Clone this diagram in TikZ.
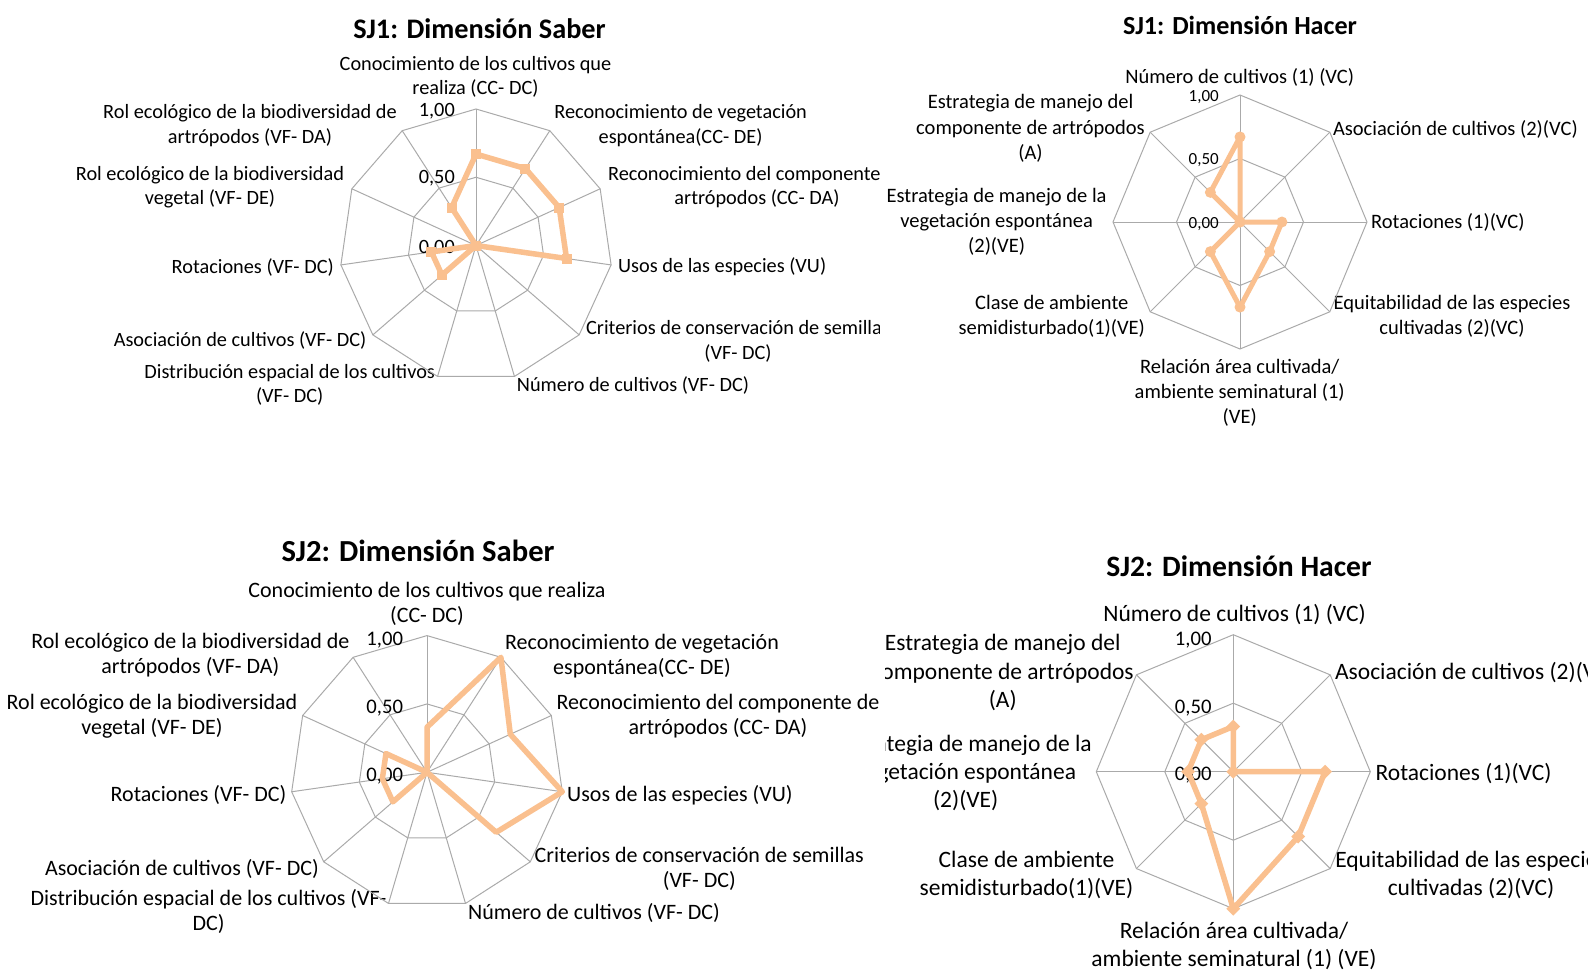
\documentclass[tikz,border=0pt]{standalone}
\usepackage{fontspec}
\setmainfont{Carlito}
\usetikzlibrary{shapes.geometric}
\definecolor{serieorange}{RGB}{250,192,143}
\definecolor{gridgray}{RGB}{170,170,170}

\begin{document}
\begin{tikzpicture}[x=1pt,y=-1pt,
  gridline/.style={draw=gridgray,line width=1pt},
  serie/.style={draw=serieorange,line width=5.5pt,line join=round},
  sqmark/.style={rectangle,fill=serieorange,minimum size=10pt,inner sep=0pt},
  dotmark/.style={circle,fill=serieorange,minimum size=11pt,inner sep=0pt},
  diamark/.style={diamond,fill=serieorange,minimum size=14pt,inner sep=0pt},
  lbl/.style={align=center,inner sep=0pt,yshift=-2pt},
  tick/.style={anchor=east,inner sep=0pt,yshift=-1.5pt},
  ttl/.style={inner sep=0pt}]

\useasboundingbox[fill=white] (0,0) rectangle (1588,971);

% SJ1: saber
\begin{scope}[font=\fontsize{20.3}{24.3}\selectfont]
  \clip (0,0) rectangle (879,480);
  \node[ttl,font=\bfseries\fontsize{28.3}{34}\selectfont] (tsa) at (479.5,28.4) {SJ1: Dimensión Saber};
  \node[lbl] (lsa0) at (475.5,75) {Conocimiento de los cultivos que\\realiza (CC- DC)};
  \node[lbl] (lsa1) at (680.6,123.6) {Reconocimiento de vegetación\\espontánea(CC- DE)};
  \node[lbl] (lsa2) at (757,185.3) {Reconocimiento del componente de\\artrópodos (CC- DA)};
  \node[lbl,anchor=west] (lsa3) at (618,265) {Usos de las especies (VU)};
  \node[lbl] (lsa4) at (738,339.3) {Criterios de conservación de semillas\\(VF- DC)};
  \node[lbl] (lsa5) at (633,383) {Número de cultivos (VF- DC)};
  \node[lbl] (lsa6) at (289.7,383) {Distribución espacial de los cultivos\\(VF- DC)};
  \node[lbl,anchor=east] (lsa7) at (366.6,338) {Asociación de cultivos (VF- DC)};
  \node[lbl,anchor=east] (lsa8) at (334,265) {Rotaciones (VF- DC)};
  \node[lbl] (lsa9) at (210,185.3) {Rol ecológico de la biodiversidad\\vegetal (VF- DE)};
  \node[lbl] (lsa10) at (250,123.6) {Rol ecológico de la biodiversidad de\\artrópodos (VF- DA)};
  \begin{scope}[shift={(476,245.5)}]
    \foreach \k in {0,...,10}
      \draw[gridline] (0,0) -- ({-90+\k*360/11}:136.5);
    \foreach \r in {68.25,136.5}
      \draw[gridline] (-90:\r) \foreach \k in {1,...,10} { -- ({-90+\k*360/11}:\r) } -- cycle;
    \node[tick] (ksa0) at (-21,1) {0,00};
    \node[tick] (ksa1) at (-21,-68.5) {0,50};
    \node[tick] (ksa2) at (-21,-136) {1,00};
    \foreach \v [count=\k from 0] in {0.67,0.67,0.67,0.67,0,0,0,0.33,0.33,0,0.33}
      \coordinate (sa\k) at ({-90+\k*360/11}:{\v*136.5});
    \draw[serie] (sa0) \foreach \k in {1,...,10} { -- (sa\k) } -- cycle;
    \foreach \k in {0,...,10}
      \node[sqmark] (msa\k) at (sa\k) {};
  \end{scope}
\end{scope}

% SJ1: hacer
\begin{scope}[font=\fontsize{20.5}{25.3}\selectfont]
  \node[ttl,font=\bfseries\fontsize{26.1}{31}\selectfont] (tha) at (1240,25.3) {SJ1: Dimensión Hacer};
  \node[lbl] (lha0) at (1239.7,75) {Número de cultivos (1) (VC)};
  \node[lbl,anchor=west] (lha1) at (1332.8,127.6) {Asociación de cultivos (2)(VC)};
  \node[lbl,anchor=west] (lha2) at (1371,220.8) {Rotaciones (1)(VC)};
  \node[lbl] (lha3) at (1452,314) {Equitabilidad de las especies\\cultivadas (2)(VC)};
  \node[lbl] (lha4) at (1239.7,391) {Relación área cultivada/\\ambiente seminatural (1)\\(VE)};
  \node[lbl] (lha5) at (1051.8,314) {Clase de ambiente\\semidisturbado(1)(VE)};
  \node[lbl] (lha6) at (996.6,219.8) {Estrategia de manejo de la\\vegetación espontánea\\(2)(VE)};
  \node[lbl] (lha7) at (1030.5,126.6) {Estrategia de manejo del\\componente de artrópodos\\(A)};
  \begin{scope}[shift={(1240,222)}]
    \foreach \k in {0,...,7}
      \draw[gridline] (0,0) -- ({-90+\k*45}:127);
    \foreach \r in {63.5,127}
      \draw[gridline] (-90:\r) \foreach \k in {1,...,7} { -- ({-90+\k*45}:\r) } -- cycle;
    \node[tick,font=\fontsize{17}{20}\selectfont] (kha0) at (-21,1) {0,00};
    \node[tick,font=\fontsize{17}{20}\selectfont] (kha1) at (-21,-63.5) {0,50};
    \node[tick,font=\fontsize{17}{20}\selectfont] (kha2) at (-21,-126) {1,00};
    \foreach \v [count=\k from 0] in {0.67,0,0.33,0.33,0.67,0.33,0,0.33}
      \coordinate (ha\k) at ({-90+\k*45}:{\v*127});
    \draw[serie,line width=5pt] (ha0) \foreach \k in {1,...,7} { -- (ha\k) } -- cycle;
    \foreach \k in {0,...,7}
      \node[dotmark] (mha\k) at (ha\k) {};
  \end{scope}
\end{scope}

% SJ2: saber
\begin{scope}[font=\fontsize{22}{25.3}\selectfont]
  \node[ttl,font=\bfseries\fontsize{30.6}{36}\selectfont] (tsb) at (418,551) {SJ2: Dimensión Saber};
  \node[lbl] (lsb0) at (427,602) {Conocimiento de los cultivos que realiza\\(CC- DC)};
  \node[lbl] (lsb1) at (642,653.8) {Reconocimiento de vegetación\\espontánea(CC- DE)};
  \node[lbl] (lsb2) at (718,714) {Reconocimiento del componente de\\artrópodos (CC- DA)};
  \node[lbl,anchor=west] (lsb3) at (567,793) {Usos de las especies (VU)};
  \node[lbl] (lsb4) at (699.3,867) {Criterios de conservación de semillas\\(VF- DC)};
  \node[lbl] (lsb5) at (594,910.5) {Número de cultivos (VF- DC)};
  \node[lbl] (lsb6) at (208.6,909.5) {Distribución espacial de los cultivos (VF-\\DC)};
  \node[lbl,anchor=east] (lsb7) at (319,867) {Asociación de cultivos (VF- DC)};
  \node[lbl,anchor=east] (lsb8) at (286.6,793) {Rotaciones (VF- DC)};
  \node[lbl] (lsb9) at (152,714) {Rol ecológico de la biodiversidad\\vegetal (VF- DE)};
  \node[lbl] (lsb10) at (190.4,653.3) {Rol ecológico de la biodiversidad de\\artrópodos (VF- DA)};
  \begin{scope}[shift={(427,772.3)}]
    \foreach \k in {0,...,10}
      \draw[gridline] (0,0) -- ({-90+\k*360/11}:136.7);
    \foreach \r in {68.35,136.7}
      \draw[gridline] (-90:\r) \foreach \k in {1,...,10} { -- ({-90+\k*360/11}:\r) } -- cycle;
    \node[tick,font=\fontsize{20.7}{24}\selectfont] (ksb0) at (-23.7,2.7) {0,00};
    \node[tick,font=\fontsize{20.7}{24}\selectfont] (ksb1) at (-23.7,-65.6) {0,50};
    \node[tick,font=\fontsize{20.7}{24}\selectfont] (ksb2) at (-23.7,-134) {1,00};
    \foreach \v [count=\k from 0] in {0.33,1,0.67,1,0.67,0,0,0.33,0.33,0.33,0}
      \coordinate (sb\k) at ({-90+\k*360/11}:{\v*136.7});
    \draw[serie] (sb0) \foreach \k in {1,...,10} { -- (sb\k) } -- cycle;
  \end{scope}
\end{scope}

% SJ2: hacer
\begin{scope}[font=\fontsize{23.5}{28.4}\selectfont]
  \clip (885,480) rectangle (1588,971);
  \node[ttl,font=\bfseries\fontsize{29.6}{35}\selectfont] (thb) at (1239,566) {SJ2: Dimensión Hacer};
  \node[lbl] (lhb0) at (1234.6,612.7) {Número de cultivos (1) (VC)};
  \node[lbl,anchor=west] (lhb1) at (1334.9,670.5) {Asociación de cultivos (2)(VC)};
  \node[lbl,anchor=west] (lhb2) at (1375.4,771.8) {Rotaciones (1)(VC)};
  \node[lbl] (lhb3) at (1471,873) {Equitabilidad de las especies\\cultivadas (2)(VC)};
  \node[lbl] (lhb4) at (1234,944) {Relación área cultivada/\\ambiente seminatural (1) (VE)};
  \node[lbl] (lhb5) at (1026.5,873) {Clase de ambiente\\semidisturbado(1)(VE)};
  \node[lbl] (lhb6) at (965.7,771) {Estrategia de manejo de la\\vegetación espontánea\\(2)(VE)};
  \node[lbl] (lhb7) at (1002.7,670.5) {Estrategia de manejo del\\componente de artrópodos\\(A)};
  \begin{scope}[shift={(1233.3,771.7)}]
    \foreach \k in {0,...,7}
      \draw[gridline] (0,0) -- ({-90+\k*45}:137);
    \foreach \r in {68.5,137}
      \draw[gridline] (-90:\r) \foreach \k in {1,...,7} { -- ({-90+\k*45}:\r) } -- cycle;
    \node[tick,font=\fontsize{20.7}{24}\selectfont] (khb0) at (-21.6,1.6) {0,00};
    \node[tick,font=\fontsize{20.7}{24}\selectfont] (khb1) at (-21.6,-65) {0,50};
    \node[tick,font=\fontsize{20.7}{24}\selectfont] (khb2) at (-21.6,-133.4) {1,00};
    \foreach \v [count=\k from 0] in {0.33,0,0.67,0.67,1,0.33,0.33,0.33}
      \coordinate (hb\k) at ({-90+\k*45}:{\v*137});
    \draw[serie] (hb0) \foreach \k in {1,...,7} { -- (hb\k) } -- cycle;
    \foreach \k in {0,...,7}
      \node[diamark] (mhb\k) at (hb\k) {};
  \end{scope}
\end{scope}
\end{tikzpicture}
\end{document}
